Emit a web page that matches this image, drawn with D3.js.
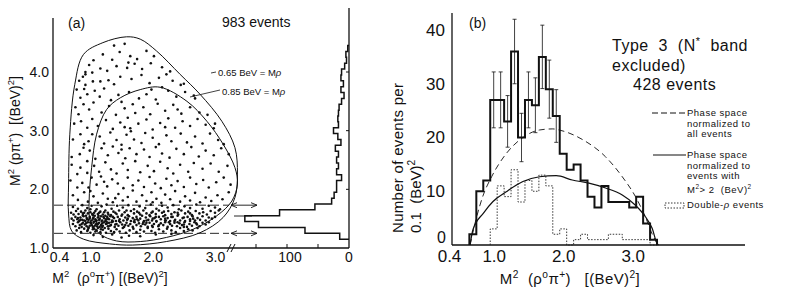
<!DOCTYPE html>
<html>
<head>
<meta charset="utf-8">
<script src="https://cdn.jsdelivr.net/npm/d3@7"></script>
<style>
body { margin: 0; background: #fff; }
svg text { font-family: "Liberation Sans", Arial, sans-serif; fill: #111; white-space: pre; }
</style>
</head>
<body>
<svg id="fig" width="789" height="305"></svg>
<script>
var width = 789,
    height = 305;

// ---------- panel (a): Dalitz plot ----------
// kinematic boundaries, [M2(rho pi), M2(p pi)]
var outerBoundary = [[1.58,4.60],[1.80,4.56],[2.06,4.36],[2.44,3.96],[2.76,3.62],[3.11,3.16],[3.32,2.71],[3.36,2.26],
    [3.32,1.86],[3.13,1.52],[2.76,1.26],[2.22,1.11],[1.68,1.05],[1.31,1.07],[0.89,1.15],[0.70,1.29],[0.65,1.58],
    [0.65,2.09],[0.67,2.94],[0.75,3.79],[0.89,4.30],[1.2,4.5]];
var innerBoundary = [[2.12,3.74],[2.55,3.50],[2.87,3.16],[3.13,2.77],[3.32,2.37],[3.36,2.09],[3.27,1.80],[3.03,1.55],
    [2.65,1.32],[2.22,1.18],[1.80,1.11],[1.42,1.12],[1.15,1.24],[1.00,1.46],[0.98,1.80],[1.02,2.37],[1.10,2.94],
    [1.26,3.36],[1.48,3.56],[1.80,3.70]];

// events above the N* band
var upperPoints = [
 [1.47,4.34],[1.64,4.27],[1.75,4.22],[2.02,4.27],[1.38,4.45],[1.2,4.3],[1.9,4.36],[1.55,4.48],
 [1.61,4.16],[1.59,4.07],[1.16,4.06],[1.27,4.02],[0.98,4.12],[1.05,4.2],[1.42,4.1],[1.83,4.05],[2.15,4.08],[2.28,4.01],[1.71,4.14],[0.92,4.0],[1.97,4.15],[1.35,4.21],
 [1.29,3.86],[1.16,3.84],[1.03,3.99],[0.92,3.96],[1.04,3.84],[0.92,3.78],[0.82,3.85],[1.48,3.92],[1.66,3.88],[1.82,3.95],[1.95,3.81],[2.1,3.9],[2.32,3.85],[2.45,3.78],[1.38,3.79],[2.22,3.96],[0.88,3.92],[2.5,3.8],
 [1.07,3.68],[0.95,3.62],[0.84,3.56],[0.78,3.7],[1.15,3.58],[1.22,3.72],[1.45,3.61],[1.62,3.66],[1.78,3.55],[1.9,3.62],[2.05,3.53],[2.25,3.68],[2.38,3.58],[2.52,3.66],[2.68,3.55],[2.66,3.6],[1.33,3.52],[2.15,3.74],[0.9,3.71],[1.98,3.7],
 [0.89,3.45],[0.81,3.28],[0.76,3.4],[0.98,3.36],[1.05,3.48],[1.18,3.31],[1.3,3.42],[1.41,3.27],[1.55,3.38],[1.68,3.45],[1.72,3.3],[1.85,3.4],[1.96,3.28],[2.08,3.46],[2.2,3.34],[2.33,3.44],[2.46,3.29],[2.6,3.4],[2.75,3.31],[2.88,3.27],[1.5,3.49],[2.4,3.36],
 [0.85,3.16],[0.95,3.05],[0.74,3.12],[1.03,3.2],[1.12,3.08],[1.25,3.18],[1.36,3.03],[1.48,3.14],[1.6,3.22],[1.64,3.04],[1.77,3.12],[1.9,3.19],[2.0,3.02],[2.12,3.13],[2.25,3.21],[2.36,3.05],[2.48,3.16],[2.6,3.08],[2.72,3.2],[2.85,3.1],[2.98,3.04],[3.0,3.12],[1.55,3.06],[2.2,3.06],
 [0.84,2.94],[1.03,2.94],[0.97,2.82],[0.72,2.85],[0.9,2.77],[1.15,2.9],[1.22,2.78],[1.32,2.97],[1.42,2.84],[1.5,2.76],[1.58,2.93],[1.7,2.85],[1.82,2.79],[1.88,2.96],[2.0,2.88],[2.1,2.77],[2.22,2.92],[2.3,2.82],[2.45,2.95],[2.55,2.8],[2.68,2.9],[2.8,2.78],[2.92,2.95],[3.05,2.84],[3.14,2.77],[1.65,2.99],
 [0.89,2.71],[0.83,2.6],[0.7,2.55],[0.99,2.66],[1.08,2.52],[1.18,2.7],[1.28,2.58],[1.36,2.73],[1.45,2.62],[1.56,2.53],[1.63,2.7],[1.74,2.6],[1.86,2.68],[1.95,2.55],[2.05,2.72],[2.15,2.61],[2.27,2.54],[2.38,2.69],[2.5,2.6],[2.62,2.72],[2.74,2.56],[2.85,2.66],[2.98,2.58],[3.1,2.7],[3.22,2.6],[1.5,2.68],
 [0.95,2.48],[0.84,2.37],[0.79,2.26],[0.95,2.28],[0.7,2.42],[1.06,2.4],[1.14,2.3],[1.24,2.46],[1.33,2.34],[1.42,2.27],[1.52,2.44],[1.6,2.33],[1.72,2.48],[1.8,2.29],[1.92,2.4],[2.02,2.31],[2.12,2.47],[2.24,2.36],[2.33,2.27],[2.44,2.42],[2.57,2.3],[2.66,2.45],[2.8,2.35],[2.93,2.44],[3.06,2.3],[3.2,2.4],
 [0.87,2.11],[0.79,2.03],[0.97,2.03],[0.68,2.15],[1.02,2.2],[1.1,2.08],[1.17,2.22],[1.27,2.05],[1.35,2.17],[1.44,2.1],[1.53,2.02],[1.6,2.2],[1.68,2.07],[1.77,2.15],[1.86,2.04],[1.95,2.21],[2.04,2.1],[2.13,2.02],[2.22,2.18],[2.3,2.07],[2.4,2.14],[2.5,2.04],[2.6,2.2],[2.7,2.09],[2.81,2.16],[2.9,2.03],[3.02,2.12],[3.14,2.2],[3.25,2.08],[1.22,2.13],
 [0.72,1.9],[0.8,1.82],[0.9,1.95],[0.96,1.79],[1.05,1.88],[1.12,1.77],[1.2,1.93],[1.28,1.84],[1.36,1.78],[1.45,1.92],[1.52,1.81],[1.6,1.87],[1.68,1.98],[1.74,1.79],[1.83,1.9],[1.9,1.8],[1.98,1.95],[2.06,1.84],[2.14,1.77],[2.2,1.91],[2.28,1.83],[2.36,1.97],[2.44,1.79],[2.52,1.88],[2.6,1.81],[2.68,1.94],[2.76,1.78],[2.85,1.86],[2.94,1.8],[3.04,1.9],[3.12,1.83],[3.22,1.95],[1.0,1.97],[1.4,1.85],[2.0,1.78]
];

// events inside the N* band (dense strip)
var bandPoints = [
 [1.05,1.22],[1.2,1.19],[1.35,1.23],[1.5,1.18],[1.62,1.21],[1.8,1.2],[2.05,1.23],[2.3,1.24],
 [0.78,1.3],[0.85,1.27],[0.9,1.33],[0.95,1.29],[1.0,1.26],[1.04,1.32],[1.08,1.28],[1.12,1.34],[1.16,1.27],[1.2,1.31],[1.25,1.26],[1.29,1.33],[1.33,1.29],[1.38,1.27],[1.42,1.32],[1.47,1.28],[1.52,1.34],[1.57,1.26],[1.63,1.3],[1.69,1.33],[1.74,1.27],[1.8,1.31],[1.86,1.28],[1.92,1.34],[1.98,1.29],[2.04,1.26],[2.1,1.32],[2.17,1.28],[2.23,1.33],[2.3,1.3],[2.37,1.27],[2.44,1.34],[2.5,1.29],[2.57,1.32],[2.64,1.3],[2.72,1.34],[1.1,1.3],[0.97,1.34],
 [0.72,1.41],[0.76,1.37],[0.8,1.44],[0.83,1.39],[0.86,1.36],[0.88,1.43],[0.91,1.4],[0.94,1.37],[0.96,1.44],[0.99,1.38],[1.01,1.42],[1.04,1.36],[1.06,1.45],[1.09,1.4],[1.11,1.37],[1.14,1.43],[1.17,1.39],[1.19,1.36],[1.22,1.44],[1.25,1.41],[1.28,1.37],[1.3,1.43],[1.33,1.39],[1.36,1.45],[1.39,1.36],[1.42,1.41],[1.45,1.38],[1.48,1.44],[1.51,1.4],[1.54,1.36],[1.58,1.43],[1.61,1.38],[1.64,1.41],[1.68,1.36],[1.71,1.44],[1.74,1.39],[1.78,1.42],[1.81,1.37],[1.85,1.44],[1.88,1.4],[1.92,1.36],[1.95,1.43],[1.99,1.38],[2.02,1.41],[2.06,1.45],[2.09,1.37],[2.13,1.42],[2.17,1.39],[2.2,1.44],[2.24,1.36],[2.28,1.41],[2.31,1.38],[2.35,1.43],[2.39,1.37],[2.43,1.42],[2.47,1.39],[2.51,1.44],[2.55,1.36],[2.59,1.41],[2.63,1.38],[2.67,1.44],[2.71,1.4],[2.75,1.37],[2.8,1.43],[2.85,1.4],[2.9,1.44],[0.93,1.42],[1.02,1.39],[1.12,1.41],[1.2,1.38],[1.27,1.42],[1.4,1.4],[1.56,1.39],[1.84,1.41],[2.0,1.36],[2.26,1.44],[2.5,1.4],
 [0.7,1.5],[0.73,1.47],[0.76,1.53],[0.79,1.49],[0.82,1.46],[0.84,1.52],[0.87,1.48],[0.89,1.54],[0.92,1.46],[0.94,1.51],[0.97,1.48],[0.99,1.53],[1.02,1.47],[1.04,1.5],[1.07,1.55],[1.09,1.46],[1.12,1.52],[1.14,1.48],[1.17,1.54],[1.19,1.47],[1.22,1.51],[1.24,1.46],[1.27,1.53],[1.3,1.49],[1.32,1.54],[1.35,1.47],[1.38,1.51],[1.41,1.46],[1.44,1.53],[1.47,1.49],[1.5,1.55],[1.53,1.47],[1.56,1.52],[1.59,1.48],[1.62,1.54],[1.65,1.46],[1.68,1.51],[1.71,1.48],[1.74,1.53],[1.77,1.47],[1.8,1.5],[1.83,1.55],[1.86,1.46],[1.89,1.52],[1.93,1.48],[1.96,1.54],[1.99,1.47],[2.03,1.51],[2.06,1.46],[2.1,1.53],[2.13,1.49],[2.17,1.54],[2.21,1.47],[2.24,1.51],[2.28,1.46],[2.32,1.53],[2.36,1.48],[2.4,1.55],[2.44,1.47],[2.48,1.51],[2.52,1.46],[2.56,1.53],[2.6,1.49],[2.64,1.54],[2.68,1.47],[2.72,1.51],[2.76,1.48],[2.8,1.54],[2.85,1.47],[2.9,1.52],[2.95,1.5],[3.0,1.53],[0.8,1.51],[0.95,1.49],[1.05,1.52],[1.15,1.5],[1.25,1.49],[1.36,1.53],[1.46,1.46],[1.6,1.5],[1.75,1.49],[1.9,1.47],[2.05,1.53],[2.2,1.5],[2.35,1.46],[2.5,1.52],[2.65,1.5],[1.1,1.47],
 [0.69,1.6],[0.73,1.57],[0.77,1.63],[0.81,1.58],[0.85,1.62],[0.88,1.56],[0.92,1.64],[0.96,1.59],[1.0,1.61],[1.04,1.56],[1.08,1.63],[1.12,1.58],[1.16,1.62],[1.2,1.57],[1.24,1.64],[1.28,1.6],[1.33,1.56],[1.37,1.62],[1.42,1.58],[1.46,1.64],[1.51,1.57],[1.55,1.61],[1.6,1.56],[1.65,1.63],[1.7,1.59],[1.75,1.62],[1.8,1.57],[1.85,1.64],[1.9,1.59],[1.95,1.56],[2.0,1.62],[2.05,1.58],[2.1,1.64],[2.15,1.6],[2.2,1.56],[2.25,1.63],[2.3,1.58],[2.35,1.61],[2.41,1.57],[2.46,1.64],[2.52,1.59],[2.57,1.62],[2.63,1.56],[2.69,1.63],[2.75,1.59],[2.81,1.61],[2.87,1.57],[2.93,1.63],[3.0,1.6],[3.06,1.64],[0.9,1.6],[1.06,1.6],[1.22,1.61],[1.4,1.6],[1.58,1.64],[1.78,1.6],[1.98,1.6],[2.18,1.62],[2.4,1.6],[2.6,1.59],
 [0.72,1.7],[0.8,1.67],[0.87,1.73],[0.95,1.68],[1.02,1.72],[1.1,1.66],[1.18,1.71],[1.26,1.74],[1.34,1.67],[1.43,1.72],[1.52,1.69],[1.61,1.73],[1.7,1.66],[1.79,1.71],[1.88,1.68],[1.97,1.74],[2.06,1.67],[2.15,1.72],[2.24,1.69],[2.33,1.73],[2.42,1.66],[2.51,1.71],[2.6,1.68],[2.7,1.74],[2.8,1.67],[2.9,1.72],[3.0,1.69],[3.08,1.66],[1.0,1.66],
 [0.82,1.34],[0.86,1.41],[0.9,1.47],[0.93,1.55],[0.97,1.35],[1.0,1.44],[1.03,1.58],[1.06,1.33],[1.08,1.49],[1.1,1.42],[1.13,1.55],[1.15,1.36],[1.18,1.46],[1.21,1.53],[1.23,1.34],[1.26,1.45],[1.29,1.57],[1.31,1.38],[0.84,1.48],[0.88,1.59],[0.99,1.51],[1.05,1.43],[1.14,1.6],[1.19,1.42],[1.28,1.5],[1.34,1.44],[0.96,1.31],[1.07,1.38],[1.17,1.32],[1.24,1.55],
 [1.9,1.43],[2.0,1.5],[2.1,1.39],[2.2,1.47],[2.3,1.53],[2.4,1.44],[2.5,1.36],[2.6,1.46],[2.7,1.42],[1.7,1.45]
];

// band limits (dashed arrows)
var bandLimits = [1.25, 1.73];

// projection on M2(p pi+), events per 0.1 bin
var projLo = [1.15,1.25,1.35,1.45,1.55,1.65,1.75,1.85,1.95,2.05,2.15,2.25,2.35,2.45,2.55,2.65,2.75,2.85,2.95,3.05,
    3.15,3.25,3.35,3.45,3.55,3.65,3.75,3.85,3.95,4.05,4.15,4.25,4.35];
var projCounts = [15,71,146,168,112,55,28,24,20,20,12,20,17,20,17,22,13,18,25,17,
    18,17,16,12,8,13,9,13,12,7,4,5,2];

var aTicksX = [0.4, 1.0, 2.0, 3.0];
var aTicksY = [1.0, 2.0, 3.0, 4.0];

// ---------- panel (b): M2(rho0 pi+) spectrum ----------
var binLo = [0.65,0.75,0.85,0.95,1.05,1.15,1.25,1.35,1.45,1.55,1.65,1.75,1.85,1.95,2.05,2.15,2.25,2.35,2.45,2.55,
    2.65,2.75,2.85,2.95,3.05,3.15,3.25];
var allCounts = [2,10,12,27,27,23,36,20,27,26,35,29,24,17,14,15,12,9,7,11,8,8,8,7,9,4,1];
var doubleRho = [0,0,0,3,11,9,14,8,12,10,13,11,2,3,0,1,2,1,1,1,2,2,1,1,1,1,0];
var errBars = [0,0,0,5.2,5.2,4.8,6,4.5,5.2,5.1,5.9,5.4,4.9,0,0,0,0,0,0,0,0,0,0,0,0,0,0];

var phaseAll = [[0.66,0],[0.75,5],[0.85,9.3],[0.97,12.7],[1.18,17],[1.41,19.9],[1.66,21.4],[1.85,21.6],[1.94,21.4],
    [2.28,19.6],[2.61,16.4],[2.85,12.7],[3.04,9],[3.18,5.3],[3.30,1.5],[3.37,0]];
var phaseHigh = [[0.66,0],[0.70,2.8],[0.85,5.9],[0.99,8.1],[1.18,9.9],[1.42,11.8],[1.66,12.7],[1.90,12.9],[2.13,12.1],
    [2.37,11.5],[2.61,10.6],[2.85,9.3],[3.04,7.4],[3.18,5.3],[3.28,3.1],[3.35,0.3],[3.37,0]];

var bTicksX = [0.4, 1.0, 2.0, 3.0];
var bTicksY = [10, 20, 30, 40];

var binW = 0.1;

var svg = d3.select("#fig");
svg.append("rect").attr("width", width).attr("height", height).attr("fill", "#fff");

// text with superscripts: parts = [{t, sup}]
function richText(sel, parts, size) {
    var up = 0;
    parts.forEach(function (p) {
        var shift = p.sup ? -size * 0.4 : 0;
        sel.append("tspan")
            .attr("font-size", p.sup ? size * 0.68 : size)
            .attr("dy", shift - up)
            .text(p.t);
        up = shift;
    });
    return sel;
}

// ================= panel (a) =================
var xA = d3.scaleLinear().domain([0.4, 3.0]).range([53, 215]);
var yA = d3.scaleLinear().domain([1.0, 4.0]).range([248, 72]);
var xP = d3.scaleLinear().domain([0, 100]).range([349, 287]);

var gA = svg.append("g");

// axes lines
gA.append("line").attr("x1", 53).attr("x2", 53).attr("y1", yA(1)).attr("y2", 18)
    .attr("stroke", "#111").attr("stroke-width", 1.3);
gA.append("line").attr("x1", 53).attr("x2", xP(0)).attr("y1", yA(1)).attr("y2", yA(1))
    .attr("stroke", "#111").attr("stroke-width", 1.3);
gA.append("line").attr("x1", xP(0)).attr("x2", xP(0)).attr("y1", yA(1)).attr("y2", 8)
    .attr("stroke", "#111").attr("stroke-width", 1.3);

// axis break
[0, 4].forEach(function (o) {
    gA.append("line").attr("x1", 227 + o).attr("x2", 231 + o).attr("y1", yA(1) + 4).attr("y2", yA(1) - 4)
        .attr("stroke", "#111").attr("stroke-width", 1);
});

var axA = gA.append("g").attr("transform", "translate(0," + yA(1) + ")")
    .call(d3.axisBottom(xA).tickValues(aTicksX).tickSize(0).tickPadding(4).tickFormat(d3.format(".1f")));
axA.select(".domain").remove();
axA.selectAll("text").attr("font-size", 14).attr("font-family", null)
    .attr("dx", function (d) { return d === 0.4 ? 6 : 0; });

var ayA = gA.append("g").attr("transform", "translate(53,0)")
    .call(d3.axisLeft(yA).tickValues(aTicksY).tickSize(0).tickPadding(4).tickFormat(d3.format(".1f")));
ayA.select(".domain").remove();
ayA.selectAll("text").attr("font-size", 14).attr("font-family", null);

// projection axis ticks and labels
gA.selectAll(".ptick").data([50, 100, 150]).join("line")
    .attr("x1", function (d) { return xP(d); }).attr("x2", function (d) { return xP(d); })
    .attr("y1", yA(1)).attr("y2", yA(1) - 4).attr("stroke", "#111");
gA.selectAll(".pytick").data([2, 3, 4]).join("line")
    .attr("x1", xP(0)).attr("x2", xP(0) - 3)
    .attr("y1", function (d) { return yA(d); }).attr("y2", function (d) { return yA(d); }).attr("stroke", "#111");
gA.selectAll(".plab").data([100, 0]).join("text")
    .attr("x", function (d) { return xP(d) + (d ? 3 : 0); }).attr("y", 262)
    .attr("text-anchor", "middle").attr("font-size", 14)
    .text(function (d) { return d; });

// boundaries
var boundaryLine = d3.line().x(function (d) { return xA(d[0]); }).y(function (d) { return yA(d[1]); })
    .curve(d3.curveCatmullRomClosed.alpha(0.5));
gA.append("path").attr("d", boundaryLine(outerBoundary)).attr("fill", "none").attr("stroke", "#111").attr("stroke-width", 1);
gA.append("path").attr("d", boundaryLine(innerBoundary)).attr("fill", "none").attr("stroke", "#111").attr("stroke-width", 1);

// events
gA.append("g").selectAll("circle").data(upperPoints.concat(bandPoints)).join("circle")
    .attr("cx", function (d) { return xA(d[0]); })
    .attr("cy", function (d) { return yA(d[1]); })
    .attr("r", 1.3).attr("fill", "#111");

// band limits: dashed line, then double arrow onto the projection
bandLimits.forEach(function (v) {
    var y = yA(v);
    gA.append("line").attr("x1", 54).attr("x2", 229).attr("y1", y).attr("y2", y)
        .attr("stroke", "#111").attr("stroke-width", 0.9).attr("stroke-dasharray", "9,4");
    gA.append("line").attr("x1", 231).attr("x2", 257).attr("y1", y).attr("y2", y)
        .attr("stroke", "#111").attr("stroke-width", 0.9);
    gA.append("path").attr("d", "M251," + (y - 2.5) + "L257," + y + "L251," + (y + 2.5) +
            "M237," + (y - 2.5) + "L231," + y + "L237," + (y + 2.5))
        .attr("fill", "none").attr("stroke", "#111").attr("stroke-width", 0.9);
});
gA.append("line").attr("x1", 234).attr("x2", 252).attr("y1", 216).attr("y2", 216)
    .attr("stroke", "#111").attr("stroke-width", 0.9);

// projection histogram
var pp = d3.path();
pp.moveTo(xP(0), yA(projLo[0]));
projCounts.forEach(function (c, i) {
    pp.lineTo(xP(c), yA(projLo[i]));
    pp.lineTo(xP(c), yA(projLo[i] + binW));
});
pp.lineTo(xP(0), yA(projLo[projLo.length - 1] + binW));
gA.append("path").attr("d", pp.toString()).attr("fill", "none").attr("stroke", "#111").attr("stroke-width", 1.5);

// labels
gA.append("text").attr("x", 68).attr("y", 28).attr("font-size", 14).text("(a)");
gA.append("text").attr("x", 222).attr("y", 27).attr("font-size", 14).text("983 events");
var l65 = gA.append("text").attr("x", 218).attr("y", 76).attr("font-size", 9.5);
l65.append("tspan").text("0.65 BeV = M");
l65.append("tspan").attr("font-style", "italic").text("ρ");
var l85 = gA.append("text").attr("x", 222).attr("y", 95).attr("font-size", 9.5);
l85.append("tspan").text("0.85 BeV = M");
l85.append("tspan").attr("font-style", "italic").text("ρ");
gA.append("line").attr("x1", 211).attr("x2", 216).attr("y1", 73).attr("y2", 72).attr("stroke", "#111").attr("stroke-width", 0.8);
gA.append("line").attr("x1", 190).attr("x2", 220).attr("y1", 97).attr("y2", 90).attr("stroke", "#111").attr("stroke-width", 0.8);

richText(gA.append("text").attr("transform", "translate(20,131) rotate(-90)").attr("text-anchor", "middle"),
    [{t: "M"}, {t: "2", sup: true}, {t: " (pπ"}, {t: "+", sup: true}, {t: ")  [(BeV)"}, {t: "2", sup: true}, {t: "]"}], 14);
richText(gA.append("text").attr("x", 110).attr("y", 283).attr("text-anchor", "middle"),
    [{t: "M"}, {t: "2", sup: true}, {t: "  (ρ"}, {t: "o", sup: true}, {t: "π"}, {t: "+", sup: true}, {t: ") [(BeV)"}, {t: "2", sup: true}, {t: "]"}], 14);

// ================= panel (b) =================
var xB = d3.scaleLinear().domain([0.4, 3.0]).range([452, 632.7]);
var yB = d3.scaleLinear().domain([0, 40]).range([245, 30]);
var gB = svg.append("g");

gB.append("line").attr("x1", 452).attr("x2", 452).attr("y1", yB(0)).attr("y2", 13)
    .attr("stroke", "#111").attr("stroke-width", 1.3);
gB.append("line").attr("x1", 452).attr("x2", 745).attr("y1", yB(0)).attr("y2", yB(0))
    .attr("stroke", "#111").attr("stroke-width", 1.3);

var axB = gB.append("g").attr("transform", "translate(0," + yB(0) + ")")
    .call(d3.axisBottom(xB).tickValues(bTicksX).tickSize(0).tickPadding(5).tickFormat(d3.format(".1f")));
axB.select(".domain").remove();
axB.selectAll("text").attr("font-size", 17).attr("font-family", null)
    .attr("dx", function (d) { return d === 0.4 ? -3 : 0; });

var ayB = gB.append("g").attr("transform", "translate(452,0)")
    .call(d3.axisLeft(yB).tickValues(bTicksY).tickSize(0).tickPadding(7));
ayB.select(".domain").remove();
ayB.selectAll("text").attr("font-size", 17).attr("font-family", null);
gB.append("text").attr("x", 446).attr("y", yB(0) - 2).attr("text-anchor", "end").attr("font-size", 16).text("0");

// double-rho histogram (dotted)
var pd = d3.path();
pd.moveTo(xB(binLo[3]), yB(0));
doubleRho.forEach(function (c, i) {
    if (i < 3) return;
    pd.lineTo(xB(binLo[i]), yB(c));
    pd.lineTo(xB(binLo[i] + binW), yB(c));
});
pd.lineTo(xB(binLo[binLo.length - 1] + binW), yB(0));
gB.append("path").attr("d", pd.toString()).attr("fill", "none").attr("stroke", "#222")
    .attr("stroke-width", 0.9).attr("stroke-dasharray", "1.5,1.5");

// phase space curves
var curve = d3.line().x(function (d) { return xB(d[0]); }).y(function (d) { return yB(d[1]); })
    .curve(d3.curveMonotoneX);
gB.append("path").attr("d", curve(phaseAll)).attr("fill", "none").attr("stroke", "#111")
    .attr("stroke-width", 0.9).attr("stroke-dasharray", "6,4");
gB.append("path").attr("d", curve(phaseHigh)).attr("fill", "none").attr("stroke", "#111")
    .attr("stroke-width", 1.2);

// error bars
gB.append("g").selectAll("path")
    .data(allCounts.map(function (c, i) { return {c: c, e: errBars[i], i: i}; })
        .filter(function (d) { return d.e > 0; }))
    .join("path")
    .attr("d", function (d) {
        var x = xB(binLo[d.i] + binW / 2), y0 = yB(d.c - d.e), y1 = yB(d.c + d.e);
        return "M" + x + "," + y0 + "V" + y1 + "M" + (x - 2) + "," + y0 + "H" + (x + 2) + "M" + (x - 2) + "," + y1 + "H" + (x + 2);
    })
    .attr("fill", "none").attr("stroke", "#111").attr("stroke-width", 0.8);

// all events histogram
var ph = d3.path();
ph.moveTo(xB(binLo[0]), yB(0));
allCounts.forEach(function (c, i) {
    ph.lineTo(xB(binLo[i]), yB(c));
    ph.lineTo(xB(binLo[i] + binW), yB(c));
});
ph.lineTo(xB(binLo[binLo.length - 1] + binW), yB(0));
gB.append("path").attr("d", ph.toString()).attr("fill", "none").attr("stroke", "#111")
    .attr("stroke-width", 2).attr("stroke-linejoin", "miter");

// labels
gB.append("text").attr("x", 469).attr("y", 28).attr("font-size", 14).text("(b)");
var t3 = gB.append("text").attr("x", 612).attr("y", 51).attr("font-size", 16).attr("letter-spacing", 0.5);
richText(t3, [{t: "Type  3  (N"}, {t: "*", sup: true}, {t: "  band"}], 16);
gB.append("text").attr("x", 612).attr("y", 71).attr("font-size", 16).attr("letter-spacing", 0.5).text("excluded)");
gB.append("text").attr("x", 633).attr("y", 90).attr("font-size", 16).attr("letter-spacing", 0.5).text("428 events");

// legend
gB.append("line").attr("x1", 652).attr("x2", 685).attr("y1", 113).attr("y2", 113)
    .attr("stroke", "#111").attr("stroke-dasharray", "6,3");
gB.append("line").attr("x1", 653).attr("x2", 686).attr("y1", 155).attr("y2", 155)
    .attr("stroke", "#111").attr("stroke-width", 1.2);
gB.append("rect").attr("x", 665).attr("y", 203).attr("width", 19).attr("height", 5)
    .attr("fill", "none").attr("stroke", "#222").attr("stroke-width", 0.9).attr("stroke-dasharray", "1.5,1.5");

var legSize = 9.5, legGap = 10.5;
var leg1 = ["Phase space", "normalized to", "all events"];
gB.selectAll(".leg1").data(leg1).join("text")
    .attr("x", 687).attr("y", function (d, i) { return 116 + i * legGap; })
    .attr("font-size", legSize).attr("letter-spacing", 0.5).text(function (d) { return d; });
var leg2 = ["Phase space", "normalized to", "events with"];
gB.selectAll(".leg2").data(leg2).join("text")
    .attr("x", 687).attr("y", function (d, i) { return 158 + i * legGap; })
    .attr("font-size", legSize).attr("letter-spacing", 0.5).text(function (d) { return d; });
richText(gB.append("text").attr("x", 687).attr("y", 193).attr("letter-spacing", 0.5),
    [{t: "M"}, {t: "2", sup: true}, {t: "> 2  (BeV)"}, {t: "2", sup: true}], legSize);
var dr = gB.append("text").attr("x", 687).attr("y", 208).attr("font-size", legSize).attr("letter-spacing", 0.5);
dr.append("tspan").text("Double-");
dr.append("tspan").attr("font-style", "italic").text("ρ");
dr.append("tspan").text(" events");

// axis titles
richText(gB.append("text").attr("x", 570).attr("y", 284).attr("text-anchor", "middle").attr("letter-spacing", 0.4),
    [{t: "M"}, {t: "2", sup: true}, {t: "  (ρ"}, {t: "o", sup: true}, {t: "π"}, {t: "+", sup: true}, {t: ")   [(BeV)"}, {t: "2", sup: true}, {t: "]"}], 15);
gB.append("text").attr("transform", "translate(403,233) rotate(-90)")
    .attr("font-size", 15).attr("letter-spacing", 0.3).text("Number of events per");
richText(gB.append("text").attr("transform", "translate(421,233) rotate(-90)"),
    [{t: "0.1  (BeV)"}, {t: "2", sup: true}], 15);
</script>
</body>
</html>
